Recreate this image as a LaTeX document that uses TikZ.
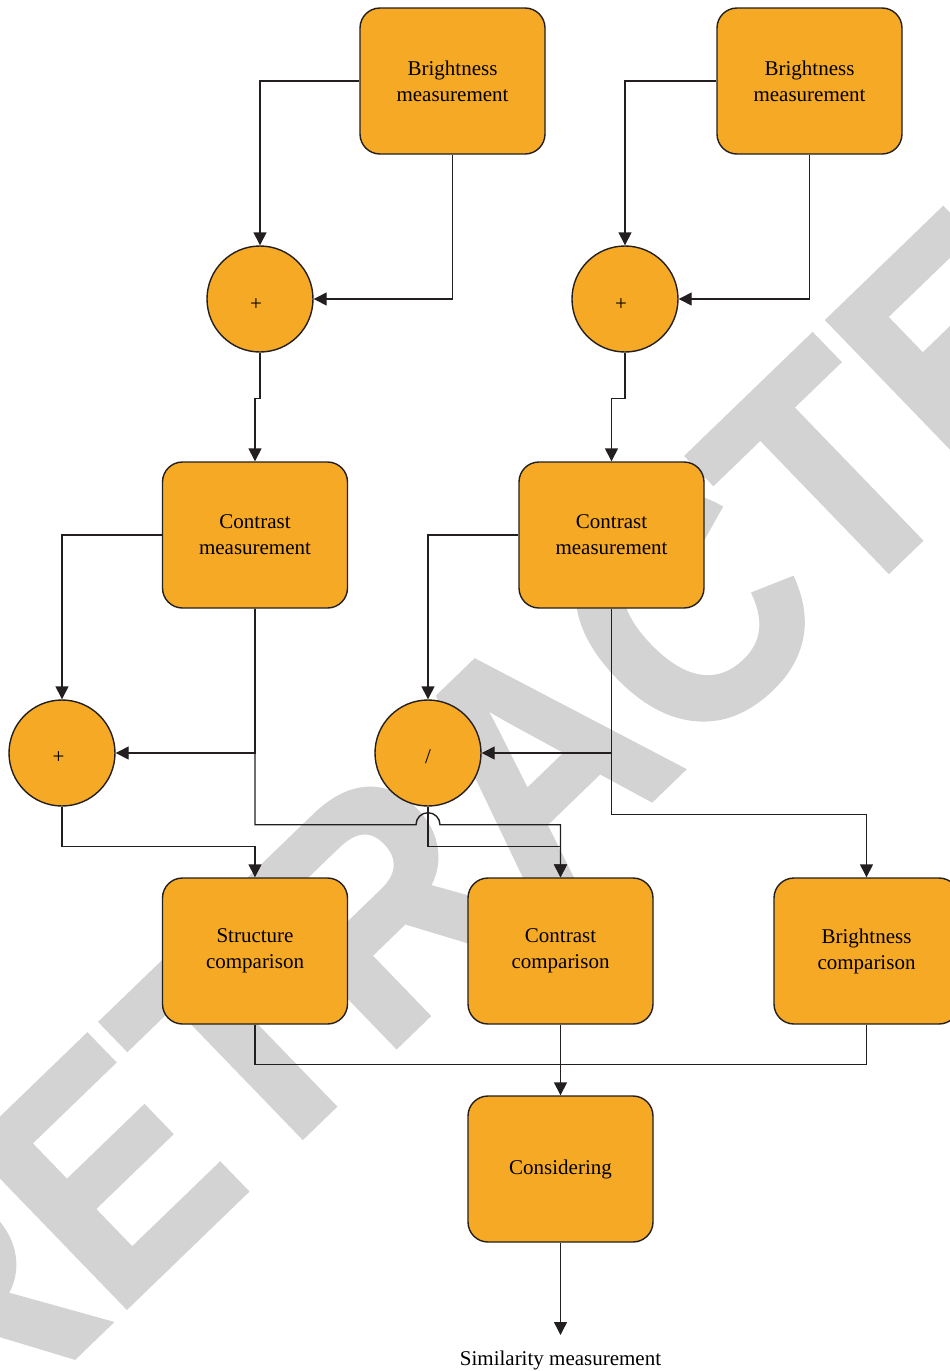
\documentclass[tikz,border=0pt]{standalone}
\usepackage{fontspec}
\setmainfont{Liberation Serif}
\newfontfamily\wmfont[FakeBold=2]{Liberation Sans}
\usetikzlibrary{arrows.meta,calc}
\definecolor{boxfill}{RGB}{245,169,36}
\definecolor{wire}{RGB}{35,31,32}
\definecolor{wmgray}{RGB}{211,211,211}

\begin{document}
\begin{tikzpicture}[x=1pt,y=-1pt,
  every node/.style={font=\fontsize{21}{26}\selectfont, text=black},
  block/.style={draw=wire, line width=1.4pt, fill=boxfill, rounded corners=20pt,
    minimum width=185pt, minimum height=146pt, align=center, inner sep=0pt},
  junction/.style={draw=wire, line width=1.4pt, fill=boxfill, circle,
    minimum size=106pt, inner sep=0pt},
  sign/.style={inner sep=0pt},
  wirepath/.style={draw=wire, line width=1.4pt},
  flow/.style={wirepath, -{Triangle[length=13pt,width=13pt]}},
]
\useasboundingbox (0,0) rectangle (950,1371);

% watermark behind the diagram
\node[rotate=44, anchor=base, inner sep=0pt, text=wmgray,
      font=\wmfont\bfseries\fontsize{321}{321}\selectfont] (wm) at (611,838)
      {\scalebox{0.914}[1]{RETRACTED}};

% measurement stages
\node[block] (b1) at (452.5,81) {Brightness\\measurement};
\node[block] (b2) at (809.5,81) {Brightness\\measurement};
\node[junction] (p1) at (260,299) {};
\node[junction] (p2) at (625,299) {};
\node[block] (c1) at (255,535) {Contrast\\measurement};
\node[block] (c2) at (611.5,535) {Contrast\\measurement};
\node[junction] (p3) at (62,753) {};
\node[junction] (dv) at (428,753) {};

% operator signs
\node[sign] (p1s) at (256,305) {+};
\node[sign] (p2s) at (621,305) {+};
\node[sign] (p3s) at (58.5,758) {+};
\node[sign] (dvs) at (428,757) {/};

% comparison stages
\node[block] (sc) at (255,951) {Structure\\comparison};
\node[block] (cc) at (560.5,951) {Contrast\\comparison};
\node[block] (bc) at (866.5,951) {Brightness\\comparison};
\node[block] (cons) at (560.5,1169) {Considering};
\coordinate (end) at (560.5,1335);
\node[anchor=base, inner sep=0pt] (res) at (560.5,1365) {Similarity measurement};

% connectors
\draw[flow] (b1.west) -| (p1.north);
\draw[flow] (b1.south) |- (p1.east);
\draw[flow] (p1.south) -- ++(0,46) -| (c1.north);
\draw[flow] (b2.west) -| (p2.north);
\draw[flow] (b2.south) |- (p2.east);
\draw[flow] (p2.south) -- ++(0,46) -| (c2.north);

\draw[flow] (c1.west) -| (p3.north);
\draw[flow] (c1.south) |- (p3.east);
\draw[flow] (c2.west) -| (dv.north);
\draw[flow] (c2.south) |- (dv.east);

\draw[flow] (p3.south) -- ++(0,40) -| (sc.north);
\draw[flow] (dv.south) -- ++(0,40) -| (cc.north);

% contrast wire hops over the wire leaving the divider
\path (dv.south) ++(0,18) coordinate (hop);
\draw[flow] (c1.south) |- ($(hop)+(-12,0)$)
   arc[start angle=180, end angle=0, radius=12pt] -| (cc.north);
\draw[flow] (c2.south) -- ++(0,206) -| (bc.north);

\draw[wirepath] (sc.south) -- ++(0,40) -| (bc.south);
\draw[flow] (cc.south) -- (cons.north);
\draw[flow] (cons.south) -- (end);
\end{tikzpicture}
\end{document}
